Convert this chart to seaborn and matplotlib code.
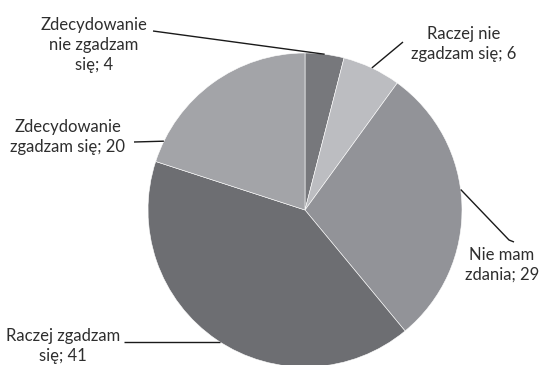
import numpy as np
import matplotlib
matplotlib.use("Agg")
import matplotlib.pyplot as plt
import seaborn as sns

# Survey answers and counts, in clockwise order from 12 o'clock
categories = [
    "Zdecydowanie nie zgadzam się",
    "Raczej nie zgadzam się",
    "Nie mam zdania",
    "Raczej zgadzam się",
    "Zdecydowanie zgadzam się",
]
values = [4, 6, 29, 41, 20]
label_texts = [
    "Zdecydowanie\nnie zgadzam\nsię; 4",
    "Raczej nie\nzgadzam się; 6",
    "Nie mam\nzdania; 29",
    "Raczej zgadzam\nsię; 41",
    "Zdecydowanie\nzgadzam się; 20",
]
colors = ["#77787c", "#bcbdc1", "#929398", "#6d6e72", "#a3a4a8"]

sns.set_theme(style="white")
plt.rcParams["font.family"] = ["Lato", "DejaVu Sans"]

W, H = 544, 365
fig = plt.figure(figsize=(W / 100, H / 100), dpi=100)
ax = fig.add_axes([0, 0, 1, 1])

cx, cy, r = 305, H - 210, 157
ax.pie(values, colors=colors, startangle=90, counterclock=False,
       center=(cx, cy), radius=r, frame=True,
       wedgeprops=dict(edgecolor="white", linewidth=0.4))
ax.set_xlim(0, W)
ax.set_ylim(0, H)
ax.set_aspect("equal")
ax.axis("off")

# Label placement (text centre) and leader routing per slice
text_pos = [(94, H - 45), (464, H - 44), (502, H - 265), (63, H - 346), (68, H - 137)]
line_start = [(153, H - 31), (403, H - 42), (514, H - 242), (124, H - 342), (134, H - 142)]
elbow = [None, None, (509, H - 240), None, None]
anchor_angle = [None, None, 7.5, None, 154.0]

cum = np.cumsum([0] + values)
total = sum(values)
for i, v in enumerate(values):
    mid = 90 - (cum[i] + v / 2) / total * 360
    ang = anchor_angle[i] if anchor_angle[i] is not None else mid
    a = np.deg2rad(ang)
    ex, ey = cx + r * np.cos(a), cy + r * np.sin(a)
    if i == 3:
        ey = line_start[i][1]
        ex = cx - np.sqrt(r ** 2 - (ey - cy) ** 2)
    pts = [line_start[i]]
    if elbow[i] is not None:
        pts.append(elbow[i])
    pts.append((ex, ey))
    xs, ys = zip(*pts)
    ax.plot(xs, ys, color="#1a1a1a", lw=1.0, solid_capstyle="butt")
    ax.text(text_pos[i][0], text_pos[i][1], label_texts[i], ha="center",
            va="center", fontsize=12, color="#2e2e2e", linespacing=1.32)

fig.savefig("out.png", dpi=100, facecolor="white")
